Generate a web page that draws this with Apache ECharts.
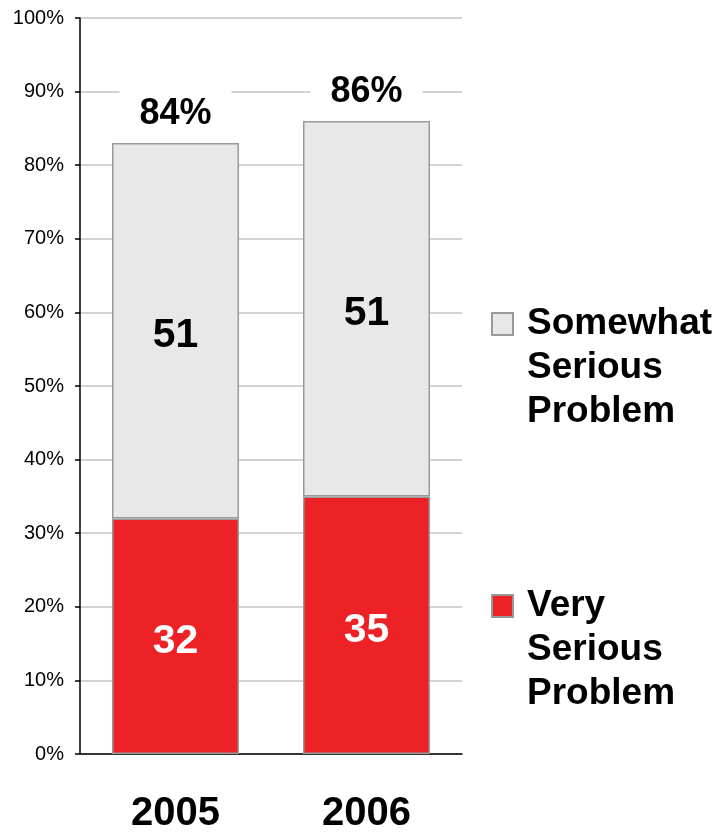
<!DOCTYPE html>
<html>
<head>
<meta charset="utf-8">
<script src="https://cdn.jsdelivr.net/npm/echarts@6/dist/echarts.min.js"></script>
<style>
  html, body { margin: 0; padding: 0; background: #fff; }
  #chart { width: 721px; height: 833px; }
</style>
</head>
<body>
<div id="chart"></div>
<script>
// Survey years on the category axis
const years = ['2005', '2006'];
// Share answering "Very serious problem" (%)
const verySerious = [32, 35];
// Share answering "Somewhat serious problem" (%)
const somewhatSerious = [51, 51];
// Combined share printed above each column (%)
const totals = [84, 86];
// Y-axis range and step
const yMin = 0, yMax = 100, yStep = 10;

const FONT = '"Liberation Sans", Arial, Helvetica, sans-serif';
const RED = '#EC2227';
const GREY = '#E8E8E8';
const EDGE = '#999999';

const chart = echarts.init(document.getElementById('chart'), null, { renderer: 'canvas' });

// Legend labels: two blank lines above the name so the first word sits level with the swatch
const legendText = {
  fontFamily: FONT,
  fontSize: 37,
  fontWeight: 'bold',
  color: '#000',
  lineHeight: 44,
  padding: [0, 0, 0, 9]
};
const legendFormatter = (name) => '\n\n' + name;

chart.setOption({
  animation: false,
  backgroundColor: '#fff',
  grid: {
    left: 80, right: 259, top: 18, bottom: 79,
    containLabel: false, outerBoundsMode: 'none'
  },
  legend: [
    {
      data: ['Somewhat\nSerious\nProblem'],
      left: 486, top: 209,
      icon: 'rect', itemWidth: 21, itemHeight: 22,
      selectedMode: false,
      formatter: legendFormatter,
      textStyle: legendText
    },
    {
      data: ['Very\nSerious\nProblem'],
      left: 486, top: 491,
      icon: 'rect', itemWidth: 21, itemHeight: 22,
      selectedMode: false,
      formatter: legendFormatter,
      textStyle: legendText
    }
  ],
  xAxis: {
    type: 'category',
    data: years,
    axisLine: { show: true, lineStyle: { color: '#000', width: 1.5 } },
    axisTick: { show: false },
    axisLabel: {
      fontFamily: FONT, fontSize: 40, fontWeight: 'bold', color: '#000', margin: 40
    }
  },
  yAxis: {
    type: 'value',
    min: yMin, max: yMax, interval: yStep,
    axisLine: { show: true, lineStyle: { color: '#000', width: 1.5 } },
    axisTick: { show: true, length: 5, lineStyle: { color: '#000', width: 1.5 } },
    axisLabel: {
      formatter: '{value}%',
      fontFamily: FONT, fontSize: 20, color: '#000', margin: 16
    },
    splitLine: { show: true, lineStyle: { color: '#C4C4C4', width: 1.5 } }
  },
  series: [
    {
      name: 'Very\nSerious\nProblem',
      type: 'bar',
      stack: 'total',
      barWidth: 127,
      data: verySerious,
      itemStyle: { color: RED, borderColor: EDGE, borderWidth: 1.5 },
      label: {
        show: true, position: 'inside', offset: [0, 5],
        fontFamily: FONT, fontSize: 41, fontWeight: 'bold', color: '#fff'
      }
    },
    {
      name: 'Somewhat\nSerious\nProblem',
      type: 'bar',
      stack: 'total',
      barWidth: 127,
      data: somewhatSerious,
      itemStyle: { color: GREY, borderColor: EDGE, borderWidth: 1.5 },
      label: {
        show: true, position: 'inside', offset: [0, 5],
        fontFamily: FONT, fontSize: 41, fontWeight: 'bold', color: '#000'
      }
    },
    {
      // zero-height cap that carries the total above each column
      name: 'total',
      type: 'bar',
      stack: 'total',
      barWidth: 127,
      data: totals.map(() => 0),
      itemStyle: { color: 'rgba(0,0,0,0)', borderWidth: 0 },
      label: {
        show: true, position: 'top', distance: 9,
        formatter: (p) => totals[p.dataIndex] + '%',
        fontFamily: FONT, fontSize: 36, fontWeight: 'bold', color: '#000',
        backgroundColor: '#fff', padding: [8, 20, 2, 20]
      }
    }
  ]
});
</script>
</body>
</html>
